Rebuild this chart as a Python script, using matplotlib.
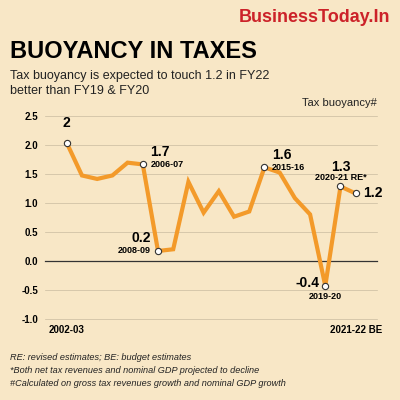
import matplotlib
matplotlib.use("Agg")
import matplotlib.pyplot as plt

# ==========================================
# DATA
# ==========================================

values = [2.03, 1.47, 1.41, 1.47, 1.69, 1.66, 0.17, 0.2, 1.36, 0.83,
          1.2, 0.76, 0.85, 1.61, 1.52, 1.08, 0.8, -0.43, 1.28, 1.16]
yticks = [-1.0, -0.5, 0.0, 0.5, 1.0, 1.5, 2.0, 2.5]

# index: (value text, year text, placement)
callouts = {
    0: ("2", "", "above"),
    5: ("1.7", "2006-07", "right"),
    6: ("0.2", "2008-09", "left"),
    13: ("1.6", "2015-16", "right"),
    17: ("-0.4", "2019-20", "below"),
    18: ("1.3", "2020-21 RE*", "above"),
    19: ("1.2", "", "right"),
}

BG = "#f8e7c6"
ORANGE = "#f39a2a"

plt.rcParams["font.family"] = ["Liberation Sans", "DejaVu Sans"]

fig = plt.figure(figsize=(4, 4), dpi=100, facecolor=BG)
ax = fig.add_axes([0.1125, 0.2025, 0.83, 0.5085], facecolor=BG)

x = list(range(len(values)))
ax.plot(x, values, color=ORANGE, lw=3, solid_joinstyle="miter", zorder=3)

for i in callouts:
    ax.plot(x[i], values[i], "o", ms=4.5, mfc="white", mec="#333333", mew=0.8, zorder=4)

ax.set_xlim(-1.43, 20.4)
ax.set_ylim(-1.0, 2.5)
ax.set_yticks(yticks)
ax.set_yticklabels([f"{v:.1f}" for v in yticks], fontsize=7, fontweight="bold")
ax.tick_params(axis="y", length=0, pad=5)
ax.set_xticks([0, 19])
ax.set_xticklabels(["2002-03", "2021-22 BE"], fontsize=7, fontweight="bold")
ax.tick_params(axis="x", length=0, pad=4)
for v in yticks:
    ax.axhline(v, color="#333333" if v == 0 else "#c9bba0", lw=0.9 if v == 0 else 0.5,
               zorder=1, clip_on=False)
for s in ax.spines.values():
    s.set_visible(False)

for i, (val, yr, where) in callouts.items():
    xi, yi = x[i], values[i]
    if where == "above":
        ax.text(xi, yi + 0.22, val, ha="center", va="bottom", fontsize=10, fontweight="bold")
        if yr:
            ax.text(xi, yi + 0.08, yr, ha="center", va="bottom", fontsize=6.5, fontweight="bold")
    elif where == "right":
        ax.text(xi + 0.5, yi + (0.1 if yr else 0), val, ha="left",
                va="bottom" if yr else "center", fontsize=10, fontweight="bold")
        if yr:
            ax.text(xi + 0.5, yi + 0.08, yr, ha="left", va="top", fontsize=6.5, fontweight="bold")
    elif where == "left":
        ax.text(xi - 0.5, yi + 0.1, val, ha="right", va="bottom", fontsize=10, fontweight="bold")
        ax.text(xi - 0.5, yi + 0.08, yr, ha="right", va="top", fontsize=6.5, fontweight="bold")
    else:
        ax.text(xi - 0.4, yi + 0.05, val, ha="right", va="center", fontsize=10, fontweight="bold")
        ax.text(xi, yi - 0.1, yr, ha="center", va="top", fontsize=6.5, fontweight="bold")

# ==========================================
# TEXT
# ==========================================

fig.text(0.975, 0.955, "BusinessToday.In", ha="right", va="center",
         fontsize=13, fontweight="bold", color="#cc2229")
fig.text(0.025, 0.87, "BUOYANCY IN TAXES", ha="left", va="center",
         fontsize=17, fontweight="bold", color="#000000")
fig.text(0.025, 0.81, "Tax buoyancy is expected to touch 1.2 in FY22",
         ha="left", va="center", fontsize=9, color="#222222")
fig.text(0.025, 0.772, "better than FY19 & FY20",
         ha="left", va="center", fontsize=9, color="#222222")
fig.text(0.943, 0.742, "Tax buoyancy#", ha="right", va="center",
         fontsize=8, color="#222222")

notes = ["RE: revised estimates; BE: budget estimates",
         "*Both net tax revenues and nominal GDP projected to decline",
         "#Calculated on gross tax revenues growth and nominal GDP growth"]
for k, n in enumerate(notes):
    fig.text(0.025, 0.107 - k * 0.033, n, ha="left", va="center",
             fontsize=6.6, style="italic", color="#222222")

plt.savefig("out.png", dpi=100, facecolor=BG)
plt.close()
